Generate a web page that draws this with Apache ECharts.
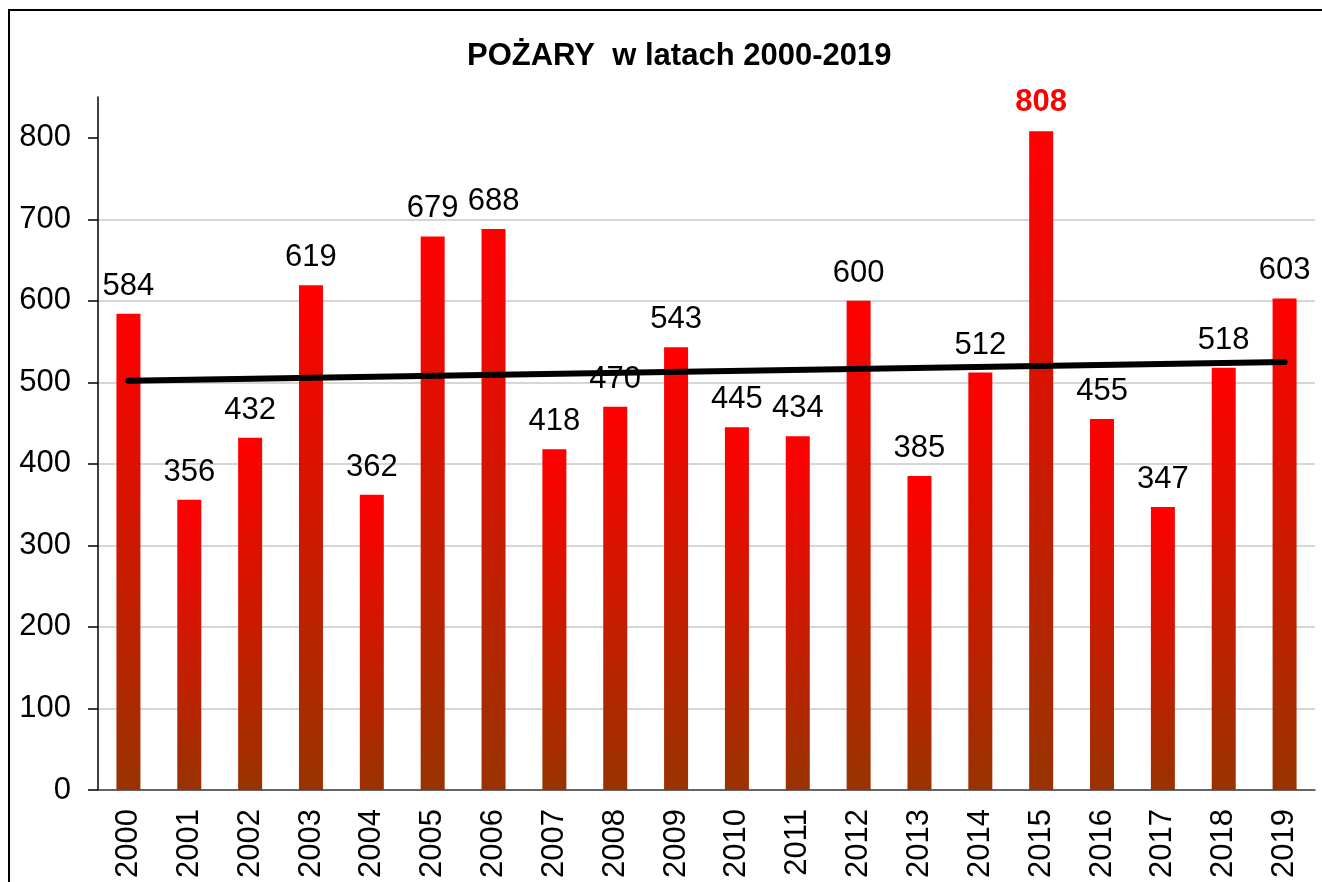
<!DOCTYPE html>
<html>
<head>
<meta charset="utf-8">
<script src="https://cdn.jsdelivr.net/npm/echarts@6/dist/echarts.min.js"></script>
<style>
  html, body { margin: 0; padding: 0; background: #fff; }
  #chart { width: 1322px; height: 882px; }
</style>
</head>
<body>
<div id="chart"></div>
<script>
// data
const years = ['2000', '2001', '2002', '2003', '2004', '2005', '2006', '2007', '2008', '2009',
               '2010', '2011', '2012', '2013', '2014', '2015', '2016', '2017', '2018', '2019'];
const fires = [584, 356, 432, 619, 362, 679, 688, 418, 470, 543,
               445, 434, 600, 385, 512, 808, 455, 347, 518, 603];
const trendEnds = [502, 525];   // trend line at 2000 and 2019
const yTicks = [0, 100, 200, 300, 400, 500, 600, 700, 800];
const highlightYear = '2015';

const font = 'Liberation Sans, Arial, sans-serif';
const chart = echarts.init(document.getElementById('chart'));

const barFill = new echarts.graphic.LinearGradient(0, 0, 0, 1, [
    { offset: 0, color: '#ff0000' },
    { offset: 1, color: '#993300' }
]);

const option = {
    animation: false,
    textStyle: { fontFamily: font },
    graphic: [{
        type: 'rect',
        shape: { x: 9, y: 10, width: 1400, height: 1000 },
        style: { fill: 'none', stroke: '#000', lineWidth: 2 },
        silent: true
    }],
    title: {
        text: 'POŻARY  w latach 2000-2019',
        left: 462,
        top: 36,
        textStyle: { fontFamily: font, fontSize: 31, fontWeight: 'bold', color: '#000' }
    },
    grid: { left: 98, right: 7, top: 97, bottom: 92, containLabel: false },
    xAxis: {
        type: 'category',
        data: years,
        axisLine: { lineStyle: { color: '#404040', width: 1.5 } },
        axisTick: { length: 10, lineStyle: { color: '#404040', width: 1.5 } },
        axisLabel: {
            rotate: 90, fontSize: 31, color: '#000', margin: 19, interval: 0
        }
    },
    yAxis: {
        type: 'value',
        min: 0,
        max: 850,
        interval: 100,
        axisLine: { show: true, lineStyle: { color: '#000', width: 1.5 } },
        axisTick: { show: true, length: 10, customValues: yTicks, lineStyle: { color: '#000', width: 1.5 } },
        axisLabel: { fontSize: 31, color: '#000', margin: 27, customValues: yTicks },
        splitLine: { show: true, showMaxLine: false, lineStyle: { color: '#c8c8c8', width: 1.5 } }
    },
    series: [{
        type: 'bar',
        barWidth: 24,
        data: fires.map((v, i) => years[i] === highlightYear
            ? { value: v, label: { color: '#ff0000', fontWeight: 'bold', fontSize: 31, distance: 13 } }
            : v),
        itemStyle: { color: barFill },
        label: {
            show: true,
            position: 'top',
            distance: 12,
            fontSize: 31,
            color: '#000',
            fontFamily: font
        }
    }, {
        type: 'line',
        z: 5,
        data: years.map((y, i) => i === 0 ? trendEnds[0] : (i === years.length - 1 ? trendEnds[1] : null)),
        connectNulls: true,
        symbol: 'none',
        lineStyle: { color: '#000', width: 6, cap: 'round' }
    }]
};

chart.setOption(option);
</script>
</body>
</html>
